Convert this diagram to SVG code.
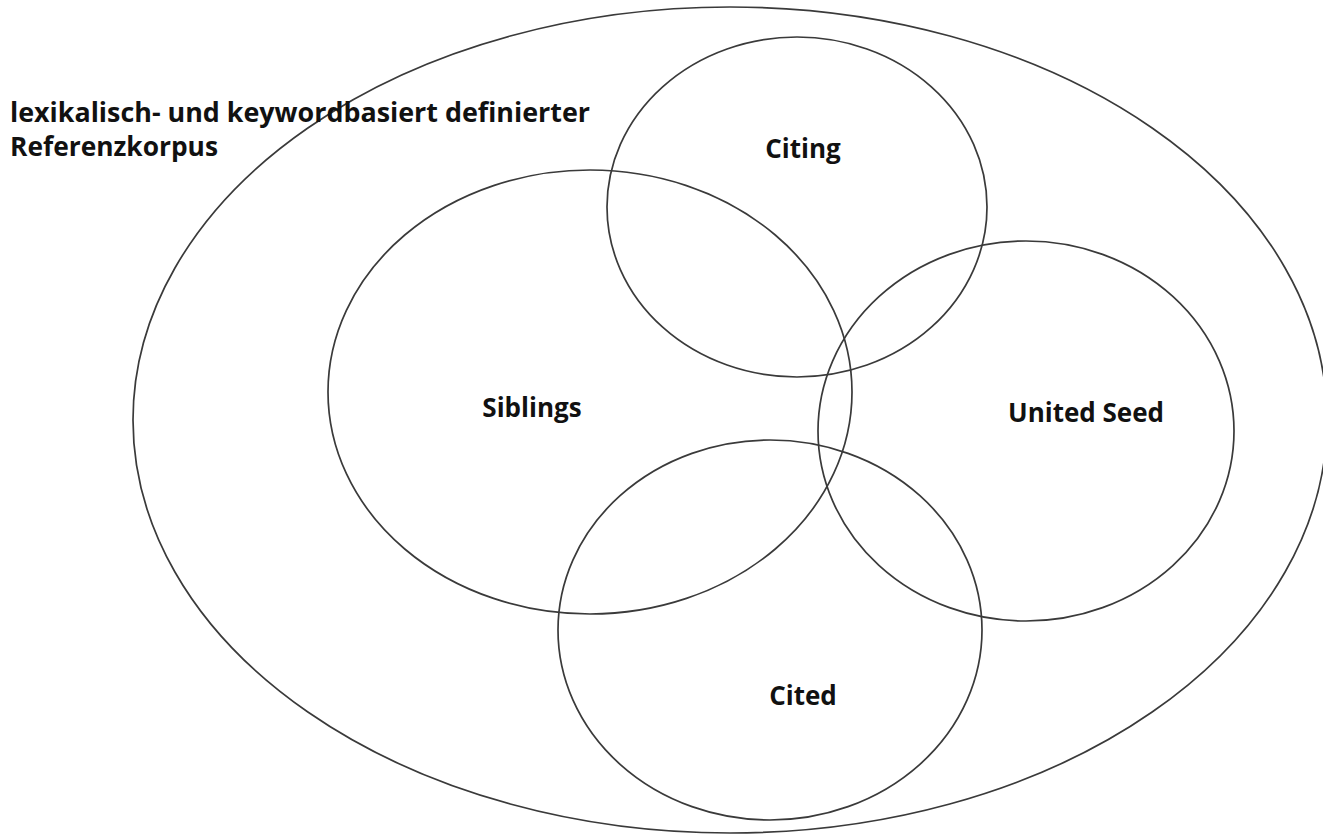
<svg xmlns="http://www.w3.org/2000/svg" width="1323" height="835" viewBox="0 0 1323 835">
<style>
.s{fill:none;stroke:#3a3a3a;stroke-width:1.7}
.t{font-family:"Open Sans","Noto Sans",sans-serif;font-weight:bold;font-size:26px;fill:#111}
.c{text-anchor:middle}
</style>
<rect width="1323" height="835" fill="#fff"/>
<g id="korpus">
<ellipse class="s" cx="730" cy="420" rx="597" ry="413"/>
<text class="t" x="10" y="122" textLength="580" lengthAdjust="spacingAndGlyphs">lexikalisch- und keywordbasiert definierter</text>
<text class="t" x="10" y="156" textLength="208" lengthAdjust="spacingAndGlyphs">Referenzkorpus</text>
</g>
<g id="citing">
<ellipse class="s" cx="797" cy="207" rx="190" ry="170"/>
<text class="t c" x="803" y="158">Citing</text>
</g>
<g id="siblings">
<ellipse class="s" cx="590" cy="392" rx="262" ry="222"/>
<text class="t c" x="532" y="417">Siblings</text>
</g>
<g id="united-seed">
<ellipse class="s" cx="1026" cy="431" rx="208" ry="190"/>
<text class="t c" x="1086" y="422">United Seed</text>
</g>
<g id="cited">
<ellipse class="s" cx="770" cy="630" rx="212" ry="190"/>
<text class="t c" x="803" y="705">Cited</text>
</g>
<g id="connectors"></g>
</svg>
